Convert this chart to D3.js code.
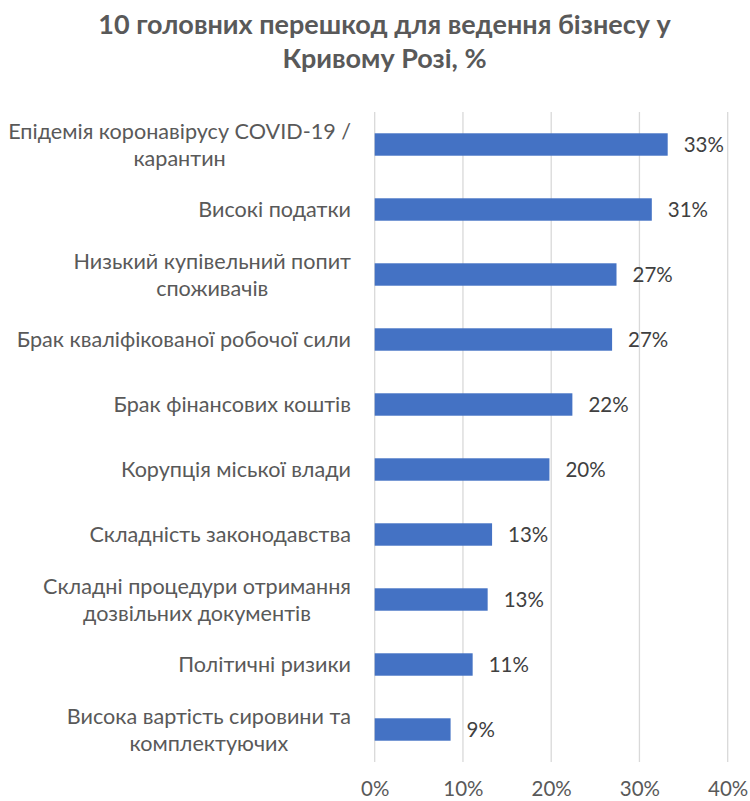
<!DOCTYPE html>
<html>
<head>
<meta charset="utf-8">
<script src="https://cdn.jsdelivr.net/npm/d3@7"></script>
<style>
  html, body { margin: 0; padding: 0; background: #fff; }
  svg { display: block; }
</style>
</head>
<body>
<svg id="chart" width="750" height="801"></svg>
<script>
const titleLines = ["10 головних перешкод для ведення бізнесу у", "Кривому Розі, %"];
const categories = [
  "Епідемія коронавірусу COVID-19 /\nкарантин",
  "Високі податки",
  "Низький купівельний попит\nспоживачів",
  "Брак кваліфікованої робочої сили",
  "Брак фінансових коштів",
  "Корупція міської влади",
  "Складність законодавства",
  "Складні процедури отримання\nдозвільних документів",
  "Політичні ризики",
  "Висока вартість сировини та\nкомплектуючих"
];
const values = [0.332, 0.314, 0.274, 0.269, 0.224, 0.198, 0.133, 0.128, 0.111, 0.086];
const tickValues = [0, 0.1, 0.2, 0.3, 0.4];

const FONT = "Lato, 'Noto Sans', sans-serif";
const svg = d3.select("#chart");

const x = d3.scaleLinear().domain([0, 0.4]).range([374.7, 727.7]);
const y = d3.scaleBand().domain(categories).range([112, 762]).paddingInner(0.655).paddingOuter(0.3275);
const pct = d3.format(".0%");

// title
svg.append("g").selectAll("text").data(titleLines).join("text")
  .attr("x", 384.5)
  .attr("y", (d, i) => 34.3 + i * 34)
  .attr("text-anchor", "middle")
  .attr("font-family", FONT)
  .attr("font-weight", "bold")
  .attr("font-size", 27)
  .attr("fill", "#595959")
  .text(d => d);

// gridlines
svg.append("g").selectAll("line").data(tickValues).join("line")
  .attr("x1", d => x(d)).attr("x2", d => x(d))
  .attr("y1", 112).attr("y2", 762)
  .attr("stroke", "#d9d9d9").attr("stroke-width", 1.3);

// x axis labels
const xAxis = d3.axisBottom(x).tickValues(tickValues).tickFormat(pct).tickSize(0).tickPadding(0);
const gx = svg.append("g").attr("transform", "translate(0,762)").call(xAxis);
gx.select(".domain").remove();
gx.selectAll("text")
  .attr("y", 34).attr("dy", "0")
  .attr("font-family", FONT).attr("font-size", 20.5).attr("fill", "#595959");

// bars
svg.append("g").selectAll("rect").data(values).join("rect")
  .attr("x", x(0))
  .attr("y", (d, i) => y(categories[i]))
  .attr("width", d => x(d) - x(0))
  .attr("height", y.bandwidth())
  .attr("fill", "#4472c4");

// value labels
svg.append("g").selectAll("text").data(values).join("text")
  .attr("x", d => x(d) + 16)
  .attr("y", (d, i) => y(categories[i]) + y.bandwidth() / 2)
  .attr("dy", "0.36em")
  .attr("font-family", FONT).attr("font-size", 20.5).attr("fill", "#404040")
  .text(d => pct(d));

// category labels
const lineH = 27.3;
const catG = svg.append("g");
categories.forEach((c, i) => {
  const lines = c.split("\n");
  const cy = y(c) + y.bandwidth() / 2;
  const g = catG.append("g");
  const texts = g.selectAll("text").data(lines).join("text")
    .attr("y", (d, j) => cy + (j - (lines.length - 1) / 2) * lineH)
    .attr("dy", "0.36em")
    .attr("text-anchor", "middle")
    .attr("font-family", FONT).attr("font-size", 21.6).attr("fill", "#595959")
    .text(d => d);
  let maxW = 0;
  texts.each(function () { maxW = Math.max(maxW, this.getComputedTextLength()); });
  texts.attr("x", 351 - maxW / 2);
});
</script>
</body>
</html>
